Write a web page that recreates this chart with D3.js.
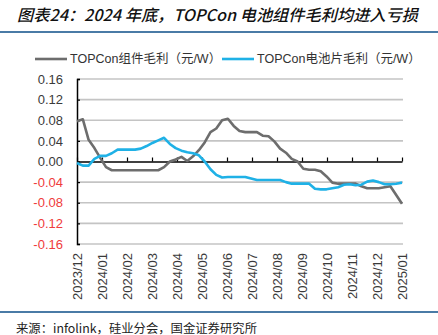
<!DOCTYPE html>
<html>
<head>
<meta charset="utf-8">
<script src="https://cdn.jsdelivr.net/npm/d3@7"></script>
<style>
  body { margin: 0; background: #fff; }
  svg { display: block; font-family: "Liberation Sans", Arial, "Noto Sans CJK SC", sans-serif; }
</style>
</head>
<body>
<div id="chart"></div>
<script>
'use strict';

// month labels on the x axis
const months = ['2023/12', '2024/01', '2024/02', '2024/03', '2024/04', '2024/05', '2024/06',
  '2024/07', '2024/08', '2024/09', '2024/10', '2024/11', '2024/12', '2025/01'];

// weekly margins, yuan/W
const moduleMargin = [0.078, 0.082, 0.042, 0.026, 0.007, -0.011, -0.017, -0.017, -0.017, -0.017,
  -0.017, -0.017, -0.017, -0.017, -0.017, -0.011, 0.000, 0.004, 0.009, 0.001,
  0.010, 0.022, 0.037, 0.057, 0.064, 0.080, 0.083, 0.069, 0.059, 0.057,
  0.057, 0.057, 0.050, 0.049, 0.039, 0.025, 0.017, 0.005, 0.000, -0.014,
  -0.016, -0.016, -0.019, -0.029, -0.041, -0.043, -0.043, -0.043, -0.043, -0.048,
  -0.052, -0.052, -0.052, -0.050, -0.048, -0.065, -0.082];

const cellMargin = [-0.003, -0.008, -0.008, 0.005, 0.011, 0.011, 0.016, 0.023, 0.023, 0.023,
  0.023, 0.025, 0.030, 0.036, 0.041, 0.046, 0.034, 0.026, 0.021, 0.018,
  0.016, 0.012, 0.000, -0.015, -0.026, -0.031, -0.030, -0.030, -0.030, -0.030,
  -0.033, -0.036, -0.036, -0.036, -0.036, -0.036, -0.040, -0.043, -0.043, -0.043,
  -0.043, -0.053, -0.054, -0.054, -0.052, -0.050, -0.045, -0.044, -0.046, -0.045,
  -0.039, -0.037, -0.040, -0.044, -0.044, -0.043, -0.041];

const yTicks = [0.16, 0.12, 0.08, 0.04, 0, -0.04, -0.08, -0.12, -0.16];

const series = [
  { name: 'TOPCon组件毛利（元/W）', values: moduleMargin, color: '#6d6d6d' },
  { name: 'TOPCon电池片毛利（元/W）', values: cellMargin, color: '#1fb1e6' }
];

const W = 438, H = 335;
const margin = {top: 79, right: 36, bottom: 91, left: 77};
const width = W - margin.left - margin.right,
  height = H - margin.top - margin.bottom;

const svg = d3.select('#chart').append('svg')
  .attr('width', W)
  .attr('height', H);

// title + rules
svg.append('text')
  .attr('x', 17).attr('y', 21)
  .attr('textLength', 401).attr('lengthAdjust', 'spacingAndGlyphs')
  .style('font-family', '"Noto Sans CJK SC", sans-serif')
  .style('font-size', '16px').style('font-style', 'italic').style('font-weight', '500')
  .attr('fill', '#111')
  .text('图表24：2024 年底，TOPCon 电池组件毛利均进入亏损');

svg.append('line').attr('x1', 0).attr('x2', W).attr('y1', 32).attr('y2', 32)
  .attr('stroke', '#4a7ba6').attr('stroke-width', 2);
svg.append('line').attr('x1', 0).attr('x2', W).attr('y1', 312).attr('y2', 312)
  .attr('stroke', '#4a7ba6').attr('stroke-width', 2);

svg.append('text')
  .attr('x', 16).attr('y', 333)
  .attr('textLength', 241).attr('lengthAdjust', 'spacingAndGlyphs')
  .style('font-family', '"Noto Sans CJK SC", sans-serif')
  .style('font-size', '12px')
  .attr('fill', '#222')
  .text('来源：infolink，硅业分会，国金证券研究所');

const g = svg.append('g').attr('transform', 'translate(' + margin.left + ',' + margin.top + ')');

const x = d3.scaleLinear()
  .domain([0, moduleMargin.length - 1])
  .range([0, width]);

const xMonth = d3.scalePoint()
  .domain(months)
  .range([0, width]);

const y = d3.scaleLinear()
  .domain([-0.16, 0.16])
  .range([height, 0]);

// gridlines
g.append('g').selectAll('line')
  .data(yTicks.filter(d => d !== 0))
  .join('line')
  .attr('x1', 0).attr('x2', width + 1)
  .attr('y1', d => y(d)).attr('y2', d => y(d))
  .attr('stroke', '#c4c4c4').attr('stroke-width', 1.6);

// y axis
const yAxis = g.append('g')
  .call(d3.axisLeft(y).tickValues(yTicks).tickSizeInner(-3).tickSizeOuter(-3).tickPadding(14)
    .tickFormat(d => d.toFixed(2)));
yAxis.select('.domain').attr('stroke', '#000').attr('stroke-width', 1.5);
yAxis.selectAll('.tick line').attr('stroke', '#000').attr('stroke-width', 1.2);
yAxis.selectAll('.tick text')
  .style('font-size', '13px')
  .attr('fill', d => d < 0 ? '#ef3b3b' : '#3a3a3a');

// zero line with month ticks
const zeroAxis = g.append('g')
  .attr('transform', 'translate(0,' + y(0) + ')')
  .call(d3.axisBottom(xMonth).tickSizeInner(-4).tickSizeOuter(0).tickFormat(''));
zeroAxis.select('.domain').attr('stroke', '#000').attr('stroke-width', 1.5);
zeroAxis.selectAll('.tick line').attr('stroke', '#000').attr('stroke-width', 1.2);

// month labels at the bottom
const xAxis = g.append('g')
  .attr('transform', 'translate(0,' + height + ')')
  .call(d3.axisBottom(xMonth).tickSize(0));
xAxis.select('.domain').remove();
xAxis.selectAll('.tick text')
  .style('font-size', '13px')
  .attr('fill', '#3a3a3a')
  .attr('transform', 'rotate(-90)')
  .attr('text-anchor', 'end')
  .attr('x', -9).attr('y', 0).attr('dy', '0.35em');

// lines
const line = d3.line()
  .x((d, i) => x(i))
  .y(d => y(d));

g.selectAll('.series')
  .data(series)
  .join('path')
  .attr('class', 'series')
  .attr('fill', 'none')
  .attr('stroke', d => d.color)
  .attr('stroke-width', 2.6)
  .attr('stroke-linejoin', 'round')
  .attr('d', d => line(d.values));

// legend, clipped at the chart's right edge
svg.append('clipPath').attr('id', 'legclip')
  .append('rect').attr('x', 0).attr('y', 40).attr('width', 416).attr('height', 30);

const legend = svg.append('g').attr('clip-path', 'url(#legclip)');
const legX = [35, 222];
const leg = legend.selectAll('g')
  .data(series)
  .join('g')
  .attr('transform', (d, i) => 'translate(' + legX[i] + ',59)');
leg.append('line')
  .attr('x1', 0).attr('x2', 32)
  .attr('stroke', d => d.color).attr('stroke-width', 2.6);
leg.append('text')
  .attr('x', 35).attr('dy', '0.35em')
  .style('font-size', '12.5px')
  .attr('fill', '#333')
  .text(d => d.name);
</script>
</body>
</html>
